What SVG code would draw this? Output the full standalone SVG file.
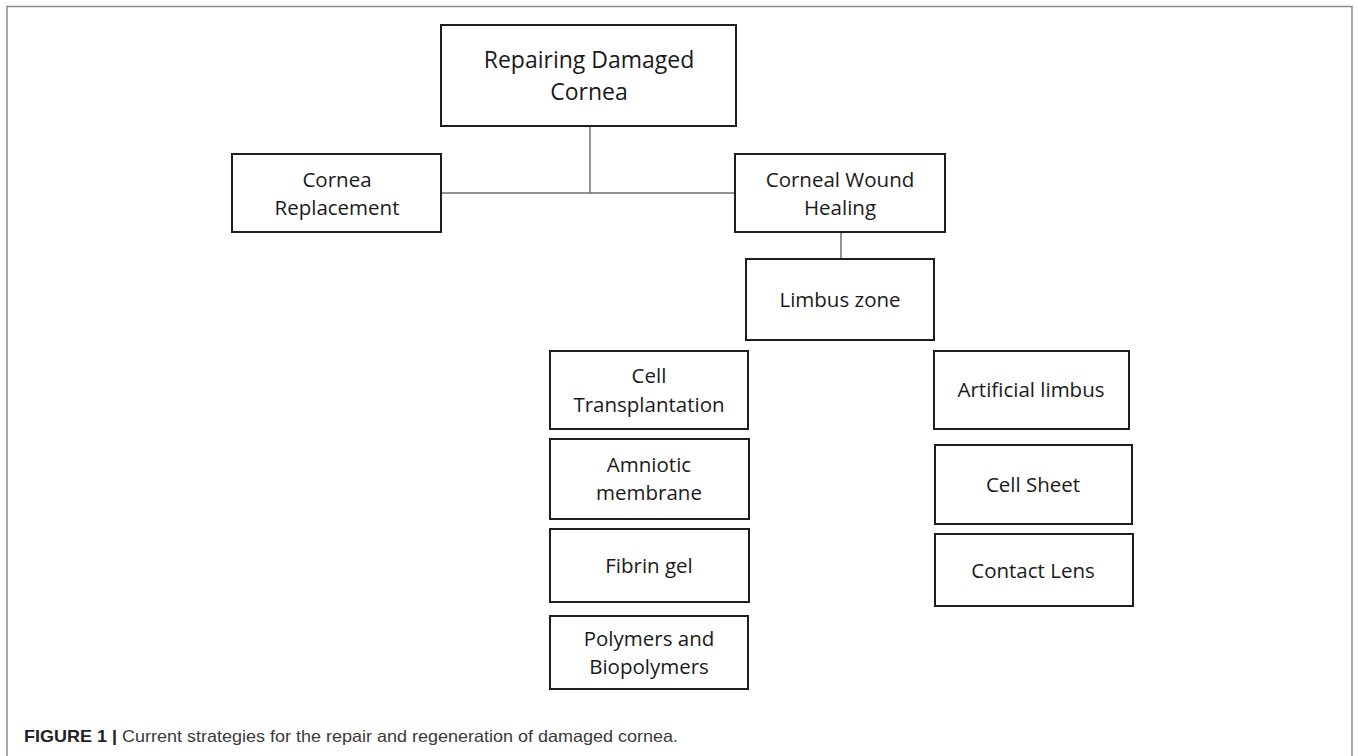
<svg xmlns="http://www.w3.org/2000/svg" width="1358" height="756" viewBox="0 0 1358 756">
<style>
.box{fill:#fff;stroke:#1e1e1e;stroke-width:2}
.lbl{font-family:"Open Sans","Liberation Sans",sans-serif;font-size:20.5px;fill:#1a1a1a;text-anchor:middle}
.big{font-size:23px}
.conn{stroke:#6e6e6e;stroke-width:1.5;fill:none}
.cap{font-family:"Liberation Sans",Arial,sans-serif;font-size:16.5px;fill:#3a3a3a}
</style>
<rect x="0" y="0" width="1358" height="756" fill="#fff"/>
<path d="M7 770 V6.5 H1352 V770" fill="none" stroke="#8a8a8a" stroke-width="1.5"/>
<g id="connectors">
<line class="conn" x1="590" y1="126" x2="590" y2="193"/>
<line class="conn" x1="441" y1="193" x2="735" y2="193"/>
<line class="conn" x1="841" y1="232" x2="841" y2="259"/>
</g>
<g id="n-root"><rect class="box" x="441" y="25" width="295" height="101"/>
<text class="lbl big" x="589" y="68">Repairing Damaged</text><text class="lbl big" x="589" y="100">Cornea</text></g>
<g id="n-replacement"><rect class="box" x="232" y="154" width="209" height="78"/>
<text class="lbl" x="337" y="187">Cornea</text><text class="lbl" x="337" y="215">Replacement</text></g>
<g id="n-healing"><rect class="box" x="735" y="154" width="210" height="78"/>
<text class="lbl" x="840" y="187">Corneal Wound</text><text class="lbl" x="840" y="215">Healing</text></g>
<g id="n-limbus"><rect class="box" x="746" y="259" width="188" height="81"/>
<text class="lbl" x="840" y="307">Limbus zone</text></g>
<g id="n-cell-transplantation"><rect class="box" x="550" y="351" width="198" height="78"/>
<text class="lbl" x="649" y="383">Cell</text><text class="lbl" x="649" y="412">Transplantation</text></g>
<g id="n-amniotic"><rect class="box" x="550" y="439" width="199" height="80"/>
<text class="lbl" x="649" y="472">Amniotic</text><text class="lbl" x="649" y="500">membrane</text></g>
<g id="n-fibrin"><rect class="box" x="550" y="529" width="199" height="73"/>
<text class="lbl" x="649" y="573">Fibrin gel</text></g>
<g id="n-polymers"><rect class="box" x="550" y="616" width="198" height="73"/>
<text class="lbl" x="649" y="646">Polymers and</text><text class="lbl" x="649" y="674">Biopolymers</text></g>
<g id="n-artificial-limbus"><rect class="box" x="934" y="351" width="195" height="78"/>
<text class="lbl" x="1031" y="397">Artificial limbus</text></g>
<g id="n-cell-sheet"><rect class="box" x="935" y="445" width="197" height="79"/>
<text class="lbl" x="1033" y="492">Cell Sheet</text></g>
<g id="n-contact-lens"><rect class="box" x="935" y="534" width="198" height="72"/>
<text class="lbl" x="1033" y="578">Contact Lens</text></g>
<text class="cap" x="24" y="742" textLength="654" lengthAdjust="spacingAndGlyphs"><tspan font-weight="bold" fill="#222">FIGURE 1 |</tspan> Current strategies for the repair and regeneration of damaged cornea.</text>
</svg>
